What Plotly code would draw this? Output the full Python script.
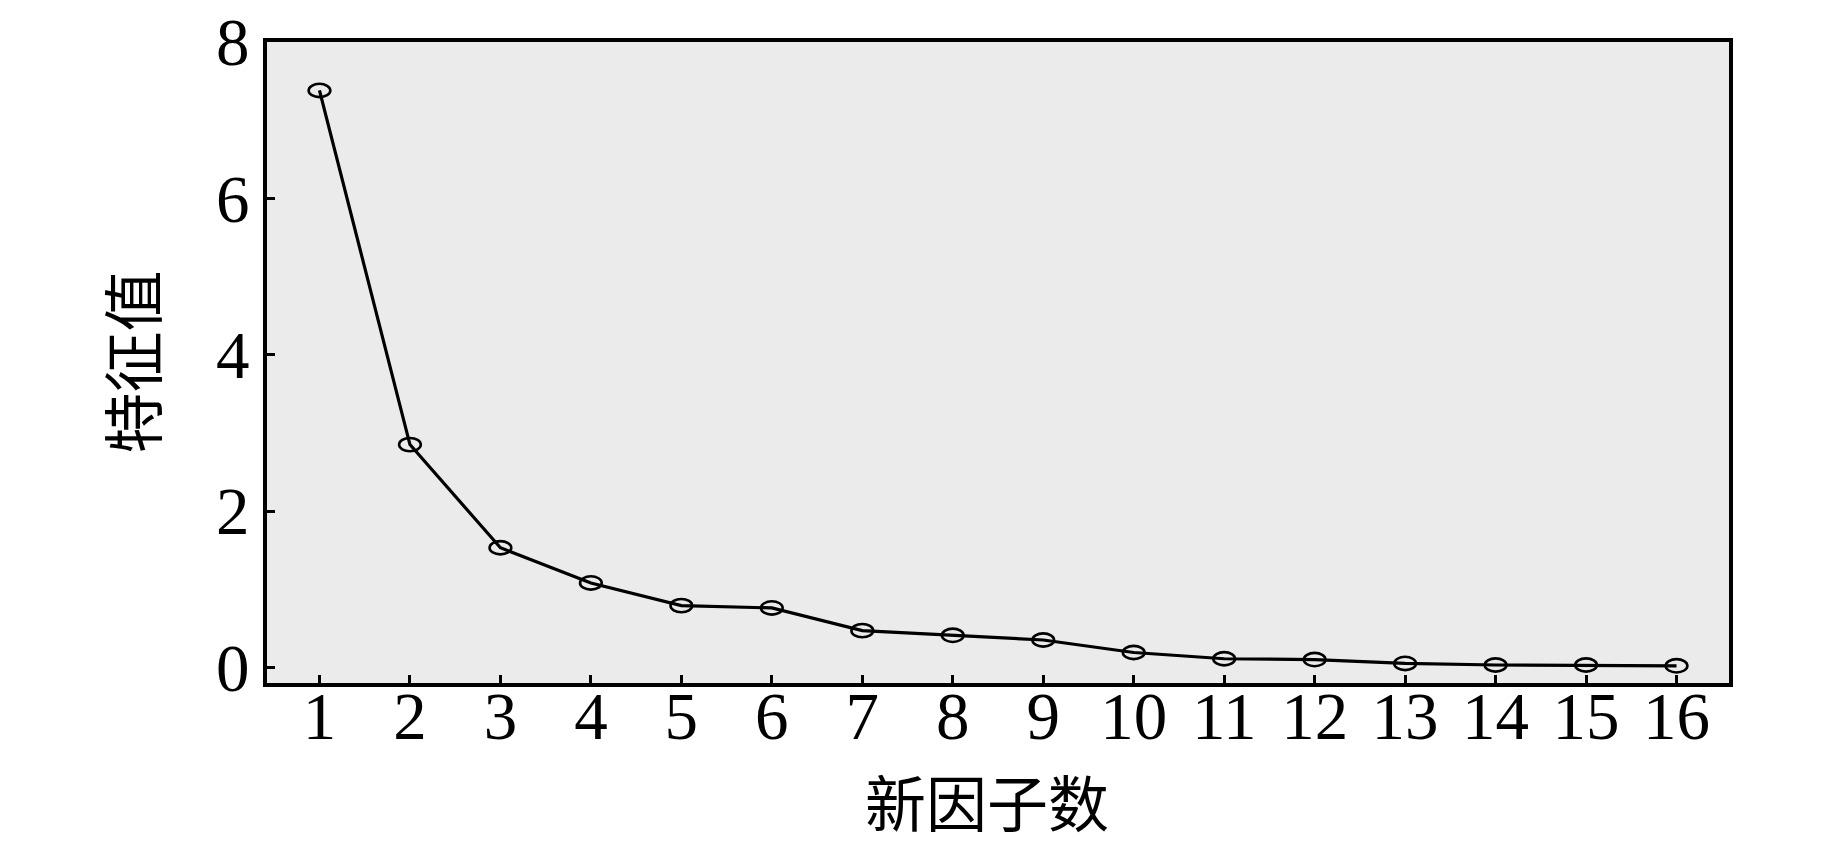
import plotly.graph_objects as go

factors = list(range(1, 17))
eigenvalues = [7.38, 2.85, 1.53, 1.08, 0.79, 0.76, 0.47, 0.41, 0.35, 0.19,
               0.11, 0.10, 0.05, 0.03, 0.03, 0.02]
x_tick_labels = [str(v) for v in factors]
y_tick_values = [0, 2, 4, 6, 8]
x_title = "新因子数"
y_title = "特征值"

fig = go.Figure()
fig.add_trace(go.Scatter(
    x=factors, y=eigenvalues, mode="lines",
    line=dict(color="black", width=3.2),
    showlegend=False,
))

# open elliptical markers drawn in data coordinates
rx, ry = 0.12, 0.085
for xv, yv in zip(factors, eigenvalues):
    fig.add_shape(type="circle", xref="x", yref="y",
                  x0=xv - rx, x1=xv + rx, y0=yv - ry, y1=yv + ry,
                  line=dict(color="black", width=2.6), fillcolor="rgba(0,0,0,0)")

tick_font = dict(family="Liberation Serif", size=67, color="black")
title_font = dict(family="Noto Sans CJK SC", size=61, color="black")

fig.update_layout(
    width=1843, height=852,
    margin=dict(l=267, r=114, t=42, b=169, autoexpand=False),
    paper_bgcolor="white",
    plot_bgcolor="#ebebeb",
    showlegend=False,
)
fig.update_xaxes(
    range=[0.42, 16.58], automargin=False,
    tickmode="array", tickvals=factors, ticktext=x_tick_labels,
    ticks="inside", ticklen=8, tickwidth=3, tickcolor="black",
    ticklabelstandoff=-28,
    showline=True, linecolor="black", linewidth=4, mirror=True,
    showgrid=False, zeroline=False,
    tickfont=tick_font,
)
fig.update_yaxes(
    range=[-0.2, 8.0], automargin=False,
    tickmode="array", tickvals=y_tick_values,
    ticks="inside", ticklen=8, tickwidth=3, tickcolor="black",
    showline=True, linecolor="black", linewidth=4, mirror=True,
    showgrid=False, zeroline=False,
    tickfont=tick_font,
)

fig.add_annotation(text=x_title, xref="paper", yref="paper",
                   x=(987 - 267) / (1843 - 267 - 114), y=-(801 - 683) / (683 - 42),
                   xanchor="center", yanchor="middle", showarrow=False,
                   font=title_font)
fig.add_annotation(text=y_title, xref="paper", yref="paper",
                   x=-(267 - 130) / (1843 - 267 - 114), y=0.5, textangle=-90,
                   xanchor="center", yanchor="middle", showarrow=False,
                   font=title_font)

fig.write_html("out.html", config={"displayModeBar": False},
               post_script="document.body.style.margin='0';document.body.style.overflow='hidden';")
